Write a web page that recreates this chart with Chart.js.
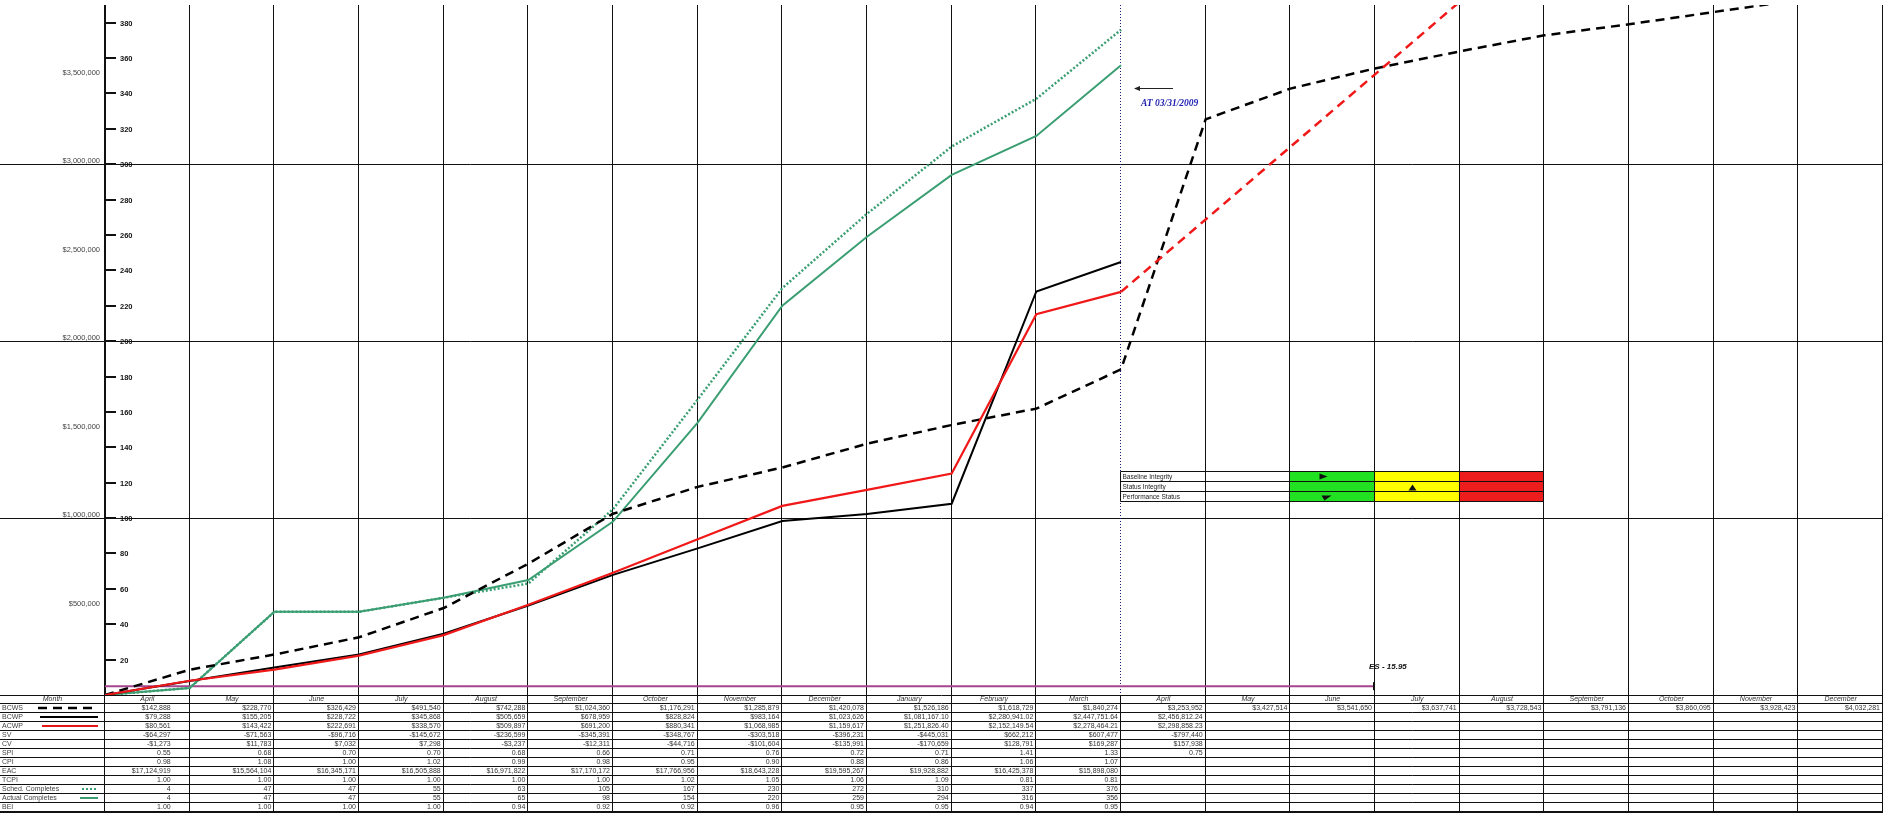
<!DOCTYPE html>
<html>
<head>
<meta charset="utf-8">
<title>EVM Status</title>
<script src="https://cdn.jsdelivr.net/npm/chart.js@4/dist/chart.umd.min.js"></script>
<style>
  html, body { margin: 0; padding: 0; background: #fff; }
  #wrap { position: relative; width: 1883px; height: 814px; }
</style>
</head>
<body>
<div id="wrap"><canvas id="evm"></canvas></div>
<script>
/* --------------------- DATA -------------------- */
const months = ["April", "May", "June", "July", "August", "September", "October", "November",
  "December", "January", "February", "March", "April", "May", "June", "July", "August",
  "September", "October", "November", "December"];

const bcws = [142888, 228770, 326429, 491540, 742288, 1024360, 1176291, 1285879, 1420078,
  1526186, 1618729, 1840274, 3253952, 3427514, 3541650, 3637741, 3728543, 3791136, 3860095,
  3928423, 4032281];
const bcwp = [79288, 155205, 228722, 345868, 505659, 678959, 828824, 983164, 1023626,
  1081167.10, 2280941.02, 2447751.64, 2456812.24];
const acwp = [80561, 143422, 222691, 338570, 509897, 691200, 880341, 1068985, 1159617,
  1251826.40, 2152149.54, 2278464.21, 2298858.23];
// red dashed projection, starts at the status date (end of March)
const acwpProjection = [2278464, 2688000, 3098000, 3508000, 3918000, 4328000];

const schedCompletes = [4, 47, 47, 55, 63, 105, 167, 230, 272, 310, 337, 376];
const actualCompletes = [4, 47, 47, 55, 65, 98, 154, 220, 259, 294, 316, 356];

const svText = ["-$64,297", "-$71,563", "-$96,716", "-$145,672", "-$236,599", "-$345,391",
  "-$348,767", "-$303,518", "-$396,231", "-$445,031", "$662,212", "$607,477", "-$797,440"];
const cvText = ["-$1,273", "$11,783", "$7,032", "$7,298", "-$3,237", "-$12,311", "-$44,716",
  "-$101,604", "-$135,991", "-$170,659", "$128,791", "$169,287", "$157,938"];
const spiText = ["0.55", "0.68", "0.70", "0.70", "0.68", "0.66", "0.71", "0.76", "0.72", "0.71",
  "1.41", "1.33", "0.75"];
const cpiText = ["0.98", "1.08", "1.00", "1.02", "0.99", "0.98", "0.95", "0.90", "0.88", "0.86",
  "1.06", "1.07"];
const eacText = ["$17,124,919", "$15,564,104", "$16,345,171", "$16,505,888", "$16,971,822",
  "$17,170,172", "$17,766,956", "$18,643,228", "$19,595,267", "$19,928,882", "$16,425,378",
  "$15,898,080"];
const tcpiText = ["1.00", "1.00", "1.00", "1.00", "1.00", "1.00", "1.02", "1.05", "1.06", "1.09",
  "0.81", "0.81"];
const beiText = ["1.00", "1.00", "1.00", "1.00", "0.94", "0.92", "0.92", "0.96", "0.95", "0.95",
  "0.94", "0.95"];

const dollarTicks = [500000, 1000000, 1500000, 2000000, 2500000, 3000000, 3500000];
const dollarGrid = [1000000, 2000000, 3000000];
const countTicks = [20, 40, 60, 80, 100, 120, 140, 160, 180, 200, 220, 240, 260, 280, 300,
  320, 340, 360, 380];

const statusMonth = 12;      // status date = end of March
const esLevel = 50000;       // ES marker line
const esEnd = 15;
const esLabel = "ES - 15.95";
const statusLabel = "AT 03/31/2009";
const integrityRows = ["Baseline Integrity", "Status Integrity", "Performance Status"];

/* --------------------- HELPERS ------------------ */
const FONT = '"Liberation Sans", Arial, sans-serif';

function series(vals, firstX) {
  return vals.map((v, i) => ({ x: firstX + i, y: v }));
}
const origin = { x: 0, y: 0 };

function money(v) {
  return "$" + v.toLocaleString("en-US", { maximumFractionDigits: 2,
    minimumFractionDigits: v % 1 ? 2 : 0 });
}

function hline(ctx, x1, x2, yy) {
  ctx.beginPath(); ctx.moveTo(x1, yy); ctx.lineTo(x2, yy); ctx.stroke();
}
function vline(ctx, xx, y1, y2) {
  ctx.beginPath(); ctx.moveTo(xx, y1); ctx.lineTo(xx, y2); ctx.stroke();
}

/* --------------------- SHEET PLUGIN ------------- */
const sheetPlugin = {
  id: "sheet",
  beforeDatasetsDraw(chart) {
    const { ctx, chartArea: a, scales: { x, y } } = chart;
    ctx.save();
    ctx.strokeStyle = "#111";
    ctx.lineWidth = 1;
    dollarGrid.forEach((v) => hline(ctx, 0, chart.width, Math.round(y.getPixelForValue(v)) + 0.5));

    for (let i = 1; i <= months.length; i++) {
      let px = Math.round(x.getPixelForValue(i)) - 0.5;
      if (i === statusMonth) {
        ctx.save();
        ctx.strokeStyle = "#1a1a7a";
        ctx.setLineDash([1, 2]);
        vline(ctx, px, a.top, a.bottom + 9);
        ctx.restore();
      } else {
        vline(ctx, px, a.top, a.bottom);
      }
    }
    ctx.lineWidth = 2;
    vline(ctx, a.left, a.top, a.bottom);
    ctx.restore();
  },

  afterDraw(chart) {
    const { ctx, chartArea: a, scales: { x, y, y2 } } = chart;
    const W = chart.width;
    ctx.save();

    /* count axis (right-hand scale drawn inside first column) */
    ctx.fillStyle = "#111";
    ctx.font = "bold 7.5px " + FONT;
    ctx.textBaseline = "middle";
    ctx.textAlign = "left";
    countTicks.forEach((v) => {
      const py = Math.round(y2.getPixelForValue(v));
      ctx.fillRect(a.left, py - 1, 11, 2);
      ctx.fillText(String(v), a.left + 15, py + 1);
    });

    /* status date annotation */
    const sx = x.getPixelForValue(statusMonth);
    ctx.strokeStyle = "#222";
    ctx.lineWidth = 1;
    const ay = Math.round(y.getPixelForValue(3430000)) + 0.5;
    hline(ctx, sx + 14, sx + 52, ay);
    ctx.fillStyle = "#222";
    ctx.beginPath();
    ctx.moveTo(sx + 13, ay); ctx.lineTo(sx + 19, ay - 2.5); ctx.lineTo(sx + 19, ay + 2.5);
    ctx.fill();
    ctx.fillStyle = "#1c1cb0";
    ctx.font = 'italic bold 9.5px "Liberation Serif", "Times New Roman", serif';
    ctx.fillText(statusLabel, sx + 20, y.getPixelForValue(3345000));

    /* ES marker */
    const ex = x.getPixelForValue(esEnd);
    const ey = y.getPixelForValue(esLevel);
    ctx.fillStyle = "#111";
    ctx.fillRect(ex - 2, ey - 4, 2, 8);
    ctx.font = "bold italic 8px " + FONT;
    ctx.fillText(esLabel, ex - 6, y.getPixelForValue(160000));

    /* integrity box */
    const bTop = Math.round(y.getPixelForValue(1265000)) + 0.5;
    const bRow = 10;
    const colX = (k) => Math.round(x.getPixelForValue(statusMonth + k)) - 0.5;
    const fills = [null, "#22e022", "#ffff00", "#ee1d1d"];
    fills.forEach((c, k) => {
      if (!c) return;
      ctx.fillStyle = c;
      ctx.fillRect(colX(k + 1), bTop, colX(k + 2) - colX(k + 1), bRow * 3);
    });
    ctx.strokeStyle = "#111";
    ctx.lineWidth = 1;
    for (let r = 0; r <= 3; r++) hline(ctx, colX(0), colX(5), bTop + r * bRow);
    for (let k = 0; k <= 5; k++) vline(ctx, colX(k), bTop, bTop + 3 * bRow);
    ctx.fillStyle = "#222";
    ctx.font = "6.5px " + FONT;
    integrityRows.forEach((t, r) => ctx.fillText(t, colX(0) + 2, bTop + r * bRow + bRow / 2 + 0.5));
    // markers
    ctx.fillStyle = "#111";
    const gx = colX(2) + 30;
    ctx.beginPath();
    ctx.moveTo(gx, bTop + 2); ctx.lineTo(gx + 8, bTop + 5); ctx.lineTo(gx, bTop + 8); ctx.fill();
    const yx = colX(3) + 38;
    ctx.beginPath();
    ctx.moveTo(yx - 4, bTop + 2 * bRow - 1); ctx.lineTo(yx, bTop + bRow + 3); ctx.lineTo(yx + 4, bTop + 2 * bRow - 1); ctx.fill();
    ctx.beginPath();
    ctx.moveTo(gx + 2, bTop + 2 * bRow + 4); ctx.lineTo(gx + 12, bTop + 2 * bRow + 4); ctx.lineTo(gx + 5, bTop + 3 * bRow - 1); ctx.fill();

    /* data table under the chart */
    const top = Math.round(y.getPixelForValue(0));
    const headH = 8, rowH = 9;
    const rows = [
      { name: "BCWS", cells: bcws.map(money), sample: { color: "#000", dash: [9, 6], w: 2.5, x1: 38 } },
      { name: "BCWP", cells: bcwp.map(money), sample: { color: "#000", dash: [], w: 2, x1: 40 } },
      { name: "ACWP", cells: acwp.map(money), sample: { color: "#e51616", dash: [], w: 2, x1: 42 } },
      { name: "SV", cells: svText },
      { name: "CV", cells: cvText },
      { name: "SPI", cells: spiText },
      { name: "CPI", cells: cpiText },
      { name: "EAC", cells: eacText },
      { name: "TCPI", cells: tcpiText },
      { name: "Sched. Completes", cells: schedCompletes.map(String), sample: { color: "#3a9e72", dash: [2, 2], w: 2, x1: 82 } },
      { name: "Actual Completes", cells: actualCompletes.map(String), sample: { color: "#3a9e72", dash: [], w: 2, x1: 80 } },
      { name: "BEI", cells: beiText }
    ];
    const bottom = top + headH + rows.length * rowH;
    ctx.fillStyle = "#fff";
    ctx.fillRect(0, top, W, bottom - top + 4);

    ctx.strokeStyle = "#111";
    ctx.lineWidth = 1;
    hline(ctx, 0, W, top + 0.5);
    hline(ctx, 0, W, top + headH + 0.5);
    rows.forEach((r, k) => hline(ctx, 0, W, top + headH + (k + 1) * rowH + 0.5));
    ctx.lineWidth = 2;
    hline(ctx, 0, W, bottom + 1);
    ctx.lineWidth = 1;
    for (let i = 0; i <= months.length; i++) {
      const px = i === months.length ? W - 0.5 : Math.round(x.getPixelForValue(i)) - 0.5;
      vline(ctx, px, top, bottom);
    }

    ctx.textBaseline = "middle";
    ctx.fillStyle = "#333";
    ctx.font = "italic 7px " + FONT;
    ctx.textAlign = "center";
    ctx.fillText("Month", a.left / 2, top + headH / 2 + 0.5);
    months.forEach((m, i) => {
      ctx.fillText(m, (x.getPixelForValue(i) + x.getPixelForValue(i + 1)) / 2, top + headH / 2 + 0.5);
    });

    ctx.font = "7px " + FONT;
    rows.forEach((r, k) => {
      const cy = top + headH + k * rowH + rowH / 2 + 0.5;
      ctx.textAlign = "left";
      ctx.fillStyle = "#444";
      ctx.fillText(r.name, 2, cy);
      if (r.sample) {
        ctx.save();
        ctx.strokeStyle = r.sample.color;
        ctx.lineWidth = r.sample.w;
        ctx.setLineDash(r.sample.dash);
        hline(ctx, r.sample.x1, 98, cy);
        ctx.restore();
      }
      ctx.textAlign = "right";
      ctx.fillStyle = "#333";
      r.cells.forEach((t, i) => {
        // first month's figures sit a little in from the cell edge
        const inset = i === 0 ? 19 : 3;
        ctx.fillText(t, x.getPixelForValue(i + 1) - inset, cy);
      });
    });

    ctx.restore();
  }
};

/* --------------------- CHART -------------------- */
const lineBase = { pointRadius: 0, tension: 0, fill: false };

new Chart(document.getElementById("evm"), {
  type: "line",
  data: {
    datasets: [
      { ...lineBase, label: "ACWP", yAxisID: "y", borderColor: "#f01818", borderWidth: 2.2,
        data: [origin, ...series(acwp.slice(0, statusMonth), 1)] },
      { ...lineBase, label: "ACWP projection", yAxisID: "y", borderColor: "#f01818", borderWidth: 2.5,
        borderDash: [9, 6], data: series(acwpProjection, statusMonth) },
      { ...lineBase, label: "BCWP", yAxisID: "y", borderColor: "#000", borderWidth: 2,
        data: [origin, ...series(bcwp.slice(0, statusMonth), 1)] },
      { ...lineBase, label: "BCWS", yAxisID: "y", borderColor: "#000", borderWidth: 2.5,
        borderDash: [9, 6], data: [origin, ...series(bcws, 1)] },
      { ...lineBase, label: "Actual Completes", yAxisID: "y2", borderColor: "#3a9e72", borderWidth: 2,
        data: [origin, ...series(actualCompletes, 1)] },
      { ...lineBase, label: "Sched. Completes", yAxisID: "y2", borderColor: "#3a9e72", borderWidth: 2.5,
        borderDash: [2, 2], data: [origin, ...series(schedCompletes, 1)] },
      { ...lineBase, label: "ES", yAxisID: "y", borderColor: "#a3468d", borderWidth: 2,
        data: [{ x: 0, y: esLevel }, { x: esEnd, y: esLevel }] }
    ]
  },
  options: {
    responsive: true,
    maintainAspectRatio: false,
    animation: false,
    layout: { padding: { top: 5, bottom: 119, left: 0, right: 0 } },
    plugins: { legend: { display: false }, tooltip: { enabled: false } },
    scales: {
      x: { type: "linear", min: 0, max: months.length, display: false },
      y: {
        position: "left",
        min: 0,
        max: 3900000,
        afterBuildTicks: (s) => { s.ticks = dollarTicks.map((v) => ({ value: v })); },
        afterFit: (s) => { s.width = 105; s.paddingTop = 0; s.paddingBottom = 0; },
        grid: { display: false, drawTicks: false },
        border: { display: false },
        ticks: {
          padding: 5,
          labelOffset: -3,
          color: "#444",
          font: { family: FONT, size: 7.5 },
          callback: (v) => "$" + Number(v).toLocaleString("en-US")
        }
      },
      y2: { position: "left", min: 0, max: 390, display: false }
    }
  },
  plugins: [sheetPlugin]
});
</script>
</body>
</html>
